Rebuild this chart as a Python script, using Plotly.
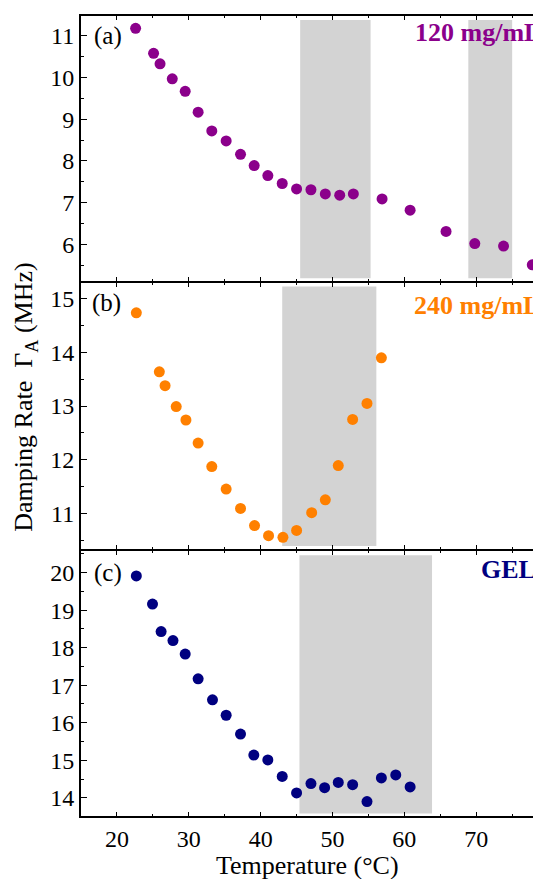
import plotly.graph_objects as go
from plotly.subplots import make_subplots

# ---- data ----
temp_a = [22.6, 25.1, 26.0, 27.7, 29.5, 31.3, 33.2, 35.2, 37.2, 39.1, 41.0, 43.0, 45.0,
          47.0, 49.0, 51.0, 52.9, 56.9, 60.8, 65.8, 69.8, 73.8, 77.8]
rate_a = [11.18, 10.58, 10.33, 9.97, 9.67, 9.17, 8.72, 8.48, 8.16, 7.89, 7.65, 7.46, 7.33,
          7.31, 7.21, 7.18, 7.21, 7.09, 6.82, 6.31, 6.02, 5.96, 5.51]

temp_b = [22.7, 25.9, 26.7, 28.25, 29.6, 31.3, 33.2, 35.2, 37.2, 39.15, 41.1, 43.1, 45.0,
          47.1, 49.0, 50.8, 52.8, 54.8, 56.8]
rate_b = [14.74, 13.64, 13.38, 12.99, 12.74, 12.31, 11.87, 11.45, 11.09, 10.77, 10.58, 10.55,
          10.68, 11.01, 11.25, 11.89, 12.75, 13.05, 13.90]

temp_c = [22.7, 24.95, 26.15, 27.8, 29.5, 31.3, 33.3, 35.2, 37.2, 39.05, 41.0, 43.0, 45.0,
          47.0, 48.9, 50.8, 52.8, 54.8, 56.8, 58.8, 60.8]
rate_c = [19.91, 19.16, 18.43, 18.19, 17.83, 17.17, 16.61, 16.20, 15.70, 15.14, 15.01, 14.57,
          14.13, 14.38, 14.27, 14.41, 14.35, 13.90, 14.53, 14.61, 14.29]

labels = ["120 mg/mL", "240 mg/mL", "GEL"]
panel_tags = ["(a)", "(b)", "(c)"]
colors = ["#8B008B", "#FF8000", "#000080"]

# shaded transition bands: (x0, x1, y0, y1) per panel
bands_a = [(45.5, 55.3, 5.19, 11.38), (68.9, 75.0, 5.19, 11.38)]
bands_b = [(43.0, 56.1, 10.39, 15.23)]
bands_c = [(45.4, 63.85, 13.58, 20.46)]

yranges = [[5.09, 11.5], [10.32, 15.31], [13.49, 20.61]]
ytickvals = [[6, 7, 8, 9, 10, 11], [11, 12, 13, 14, 15], [14, 15, 16, 17, 18, 19, 20]]
xtickvals = [20, 30, 40, 50, 60, 70]
xminorvals = [15, 25, 35, 45, 55, 65, 75]
xrange_ = [15, 77.9]

# ---- figure ----
fig = make_subplots(rows=3, cols=1, shared_xaxes=True, vertical_spacing=0)

font_family = "Liberation Serif"
series = [(temp_a, rate_a), (temp_b, rate_b), (temp_c, rate_c)]
bands = [bands_a, bands_b, bands_c]

for i, ((tx, ry), col) in enumerate(zip(series, colors)):
    row = i + 1
    for (x0, x1, y0, y1) in bands[i]:
        fig.add_shape(type="rect", x0=x0, x1=x1, y0=y0, y1=y1,
                      fillcolor="#D3D3D3", line=dict(width=0), layer="below",
                      row=row, col=1)
    fig.add_trace(go.Scatter(x=tx, y=ry, mode="markers",
                             marker=dict(size=11, color=col),
                             showlegend=False), row=row, col=1)
    fig.update_yaxes(range=yranges[i], tickvals=ytickvals[i], row=row, col=1,
                     ticks="inside", ticklen=6, tickwidth=1, tickcolor="black",
                     showline=True, linewidth=2, linecolor="black", mirror=False,
                     showgrid=False, zeroline=False,
                     minor=dict(dtick=0.5, ticks="inside", ticklen=3, tickcolor="black"),
                     tickfont=dict(family=font_family, size=24, color="black"))
    fig.update_xaxes(range=xrange_, tickvals=xtickvals, row=row, col=1,
                     ticks="inside", ticklen=5, tickwidth=1, tickcolor="black",
                     showline=True, linewidth=1, linecolor="black", mirror="ticks",
                     showgrid=False, zeroline=False,
                     minor=dict(tickvals=xminorvals, ticks="inside",
                                ticklen=3, tickcolor="black"),
                     tickfont=dict(family=font_family, size=24, color="black"))

tag_pos = [(0.0245, 0.921), (0.019, 0.921), (0.0245, 0.914)]
lab_pos = [(0.735, 0.933), (0.732, 0.914), (0.881, 0.925)]
for i in range(3):
    sfx = "" if i == 0 else str(i + 1)
    fig.add_annotation(text=panel_tags[i], xref=f"x{sfx} domain", yref=f"y{sfx} domain",
                       x=tag_pos[i][0], y=tag_pos[i][1], xanchor="left", yanchor="middle",
                       showarrow=False, font=dict(family=font_family, size=25, color="black"))
    fig.add_annotation(text=f"<b>{labels[i]}</b>", xref=f"x{sfx} domain", yref=f"y{sfx} domain",
                       x=lab_pos[i][0], y=lab_pos[i][1], xanchor="left", yanchor="middle",
                       showarrow=False, font=dict(family=font_family, size=26, color=colors[i]))

# outer thick frame lines (top and bottom)
fig.add_shape(type="line", xref="paper", yref="paper", x0=0, x1=1, y0=1, y1=1,
              line=dict(color="black", width=2))
fig.add_shape(type="line", xref="paper", yref="paper", x0=0, x1=1, y0=0, y1=0,
              line=dict(color="black", width=2))

# axis titles
fig.add_annotation(text="Temperature (°C)", xref="paper", yref="paper", x=0.5, y=-0.06,
                   xanchor="center", yanchor="middle", showarrow=False,
                   font=dict(family=font_family, size=26, color="black"))
fig.add_annotation(text="Damping Rate \u00a0Γ<sub>A</sub> (MHz)", xref="paper", yref="paper",
                   x=-0.124, y=0.524, xanchor="center", yanchor="middle", textangle=-90,
                   showarrow=False, font=dict(family=font_family, size=26, color="black"))

fig.update_layout(width=533, height=879, margin=dict(l=81, r=0, t=15, b=62),
                  plot_bgcolor="white", paper_bgcolor="white")

fig.write_html("out.html")
